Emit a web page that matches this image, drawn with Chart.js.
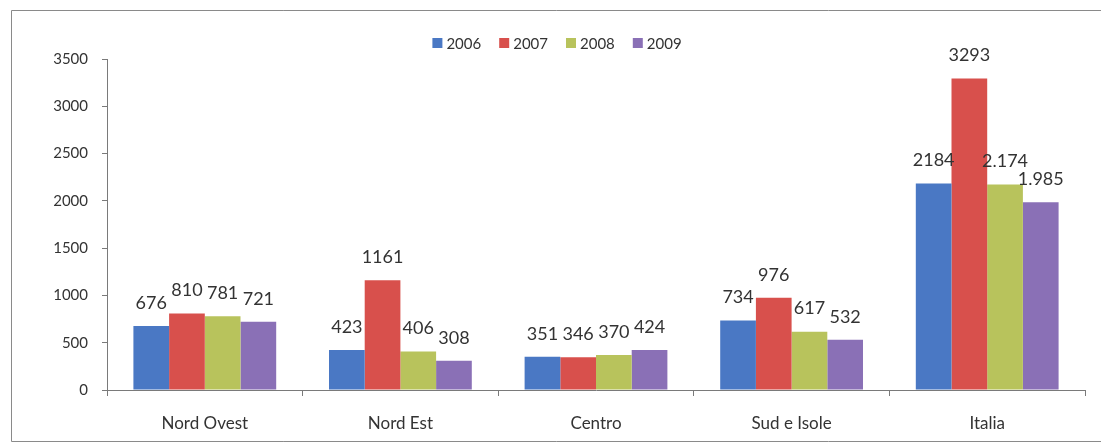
<!DOCTYPE html>
<html>
<head>
<meta charset="utf-8">
<script src="https://cdn.jsdelivr.net/npm/chart.js@4/dist/chart.umd.min.js"></script>
<style>
html,body{margin:0;padding:0;background:#fff;}
#wrap{width:1101px;height:443px;position:relative;}
</style>
</head>
<body>
<div id="wrap"><canvas id="c" width="1101" height="443"></canvas></div>
<script>
const categories = ['Nord Ovest', 'Nord Est', 'Centro', 'Sud e Isole', 'Italia'];
const seriesNames = ['2006', '2007', '2008', '2009'];
const values2006 = [676, 423, 351, 734, 2184];
const values2007 = [810, 1161, 346, 976, 3293];
const values2008 = [781, 406, 370, 617, 2174];
const values2009 = [721, 308, 424, 532, 1985];
const labels2006 = ['676', '423', '351', '734', '2184'];
const labels2007 = ['810', '1161', '346', '976', '3293'];
const labels2008 = ['781', '406', '370', '617', '2.174'];
const labels2009 = ['721', '308', '424', '532', '1.985'];
const yTicks = [0, 500, 1000, 1500, 2000, 2500, 3000, 3500];

const colors = ['#4a78c4', '#d8504c', '#b8c35c', '#8a70b6'];
const allValues = [values2006, values2007, values2008, values2009];
const allLabels = [labels2006, labels2007, labels2008, labels2009];
const FONT = 'Lato, "Open Sans", sans-serif';
const TXT = '#333333';

const framePlugin = {
  id: 'frame',
  beforeDraw(chart) {
    const ctx = chart.ctx;
    ctx.save();
    ctx.strokeStyle = '#8a8a8a';
    ctx.lineWidth = 1;
    ctx.beginPath();
    ctx.moveTo(1101, 10.5);
    ctx.lineTo(11.5, 10.5);
    ctx.lineTo(11.5, 441.5);
    ctx.lineTo(1101, 441.5);
    ctx.stroke();
    ctx.restore();
  }
};

const legendPlugin = {
  id: 'customLegend',
  afterDraw(chart) {
    const ctx = chart.ctx;
    ctx.save();
    ctx.font = '15px ' + FONT;
    ctx.textBaseline = 'middle';
    const box = 10, gap = 4, itemGap = 18;
    const items = chart.data.datasets.map(d => ({ label: d.label, color: d.backgroundColor, w: box + gap + ctx.measureText(d.label).width }));
    const total = items.reduce((s, it) => s + it.w, 0) + itemGap * (items.length - 1);
    let x = 557 - total / 2;
    const y = 43;
    items.forEach(it => {
      ctx.fillStyle = it.color;
      ctx.fillRect(x, y - box / 2, box, box);
      ctx.fillStyle = TXT;
      ctx.textAlign = 'left';
      ctx.fillText(it.label, x + box + gap, y + 1);
      x += it.w + itemGap;
    });
    ctx.restore();
  }
};

const valueLabelPlugin = {
  id: 'valueLabels',
  afterDatasetsDraw(chart) {
    const ctx = chart.ctx;
    ctx.save();
    ctx.font = '18px ' + FONT;
    ctx.fillStyle = TXT;
    ctx.textAlign = 'center';
    ctx.textBaseline = 'bottom';
    chart.data.datasets.forEach((ds, di) => {
      const meta = chart.getDatasetMeta(di);
      meta.data.forEach((bar, i) => {
        ctx.fillText(allLabels[di][i], bar.x, bar.y - 14);
      });
    });
    ctx.restore();
  }
};

new Chart(document.getElementById('c'), {
  type: 'bar',
  data: {
    labels: categories,
    datasets: seriesNames.map((name, i) => ({
      label: name,
      data: allValues[i],
      backgroundColor: colors[i],
      borderWidth: 0,
      categoryPercentage: 0.73,
      barPercentage: 1.0
    }))
  },
  options: {
    responsive: false,
    animation: false,
    layout: { padding: { top: 59, right: 16, bottom: 0, left: 0 } },
    plugins: {
      legend: { display: false },
      tooltip: { enabled: false }
    },
    scales: {
      x: {
        afterFit(s) { s.height = 53; },
        grid: { display: true, drawOnChartArea: false, drawTicks: true, tickLength: 6, color: '#7a7a7a', offset: true },
        border: { display: true, color: '#7a7a7a' },
        ticks: { color: TXT, font: { family: FONT, size: 17 }, padding: 17 }
      },
      y: {
        min: 0,
        max: 3500,
        afterFit(s) { s.width = 107; },
        afterBuildTicks(s) { s.ticks = yTicks.map(v => ({ value: v })); },
        grid: { display: true, drawOnChartArea: false, drawTicks: true, tickLength: 5, color: '#7a7a7a' },
        border: { display: true, color: '#7a7a7a' },
        ticks: { color: TXT, font: { family: FONT, size: 15 }, padding: 14, callback: v => String(v) }
      }
    }
  },
  plugins: [framePlugin, legendPlugin, valueLabelPlugin]
});
</script>
</body>
</html>
